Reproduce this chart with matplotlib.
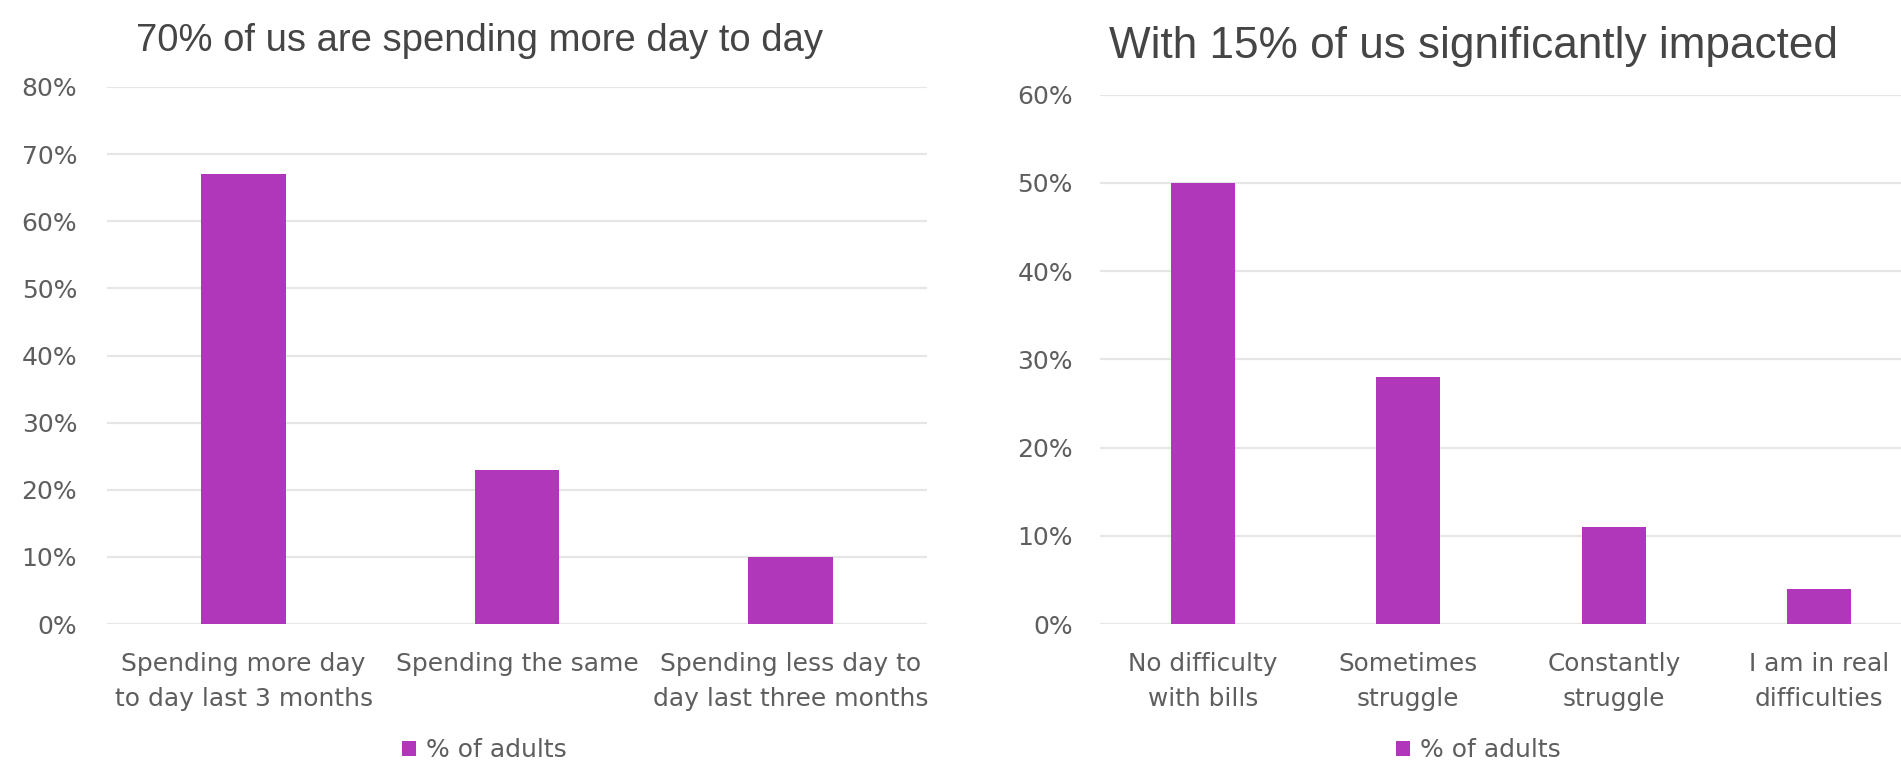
import matplotlib
matplotlib.use("Agg")
import matplotlib.pyplot as plt
from matplotlib.ticker import FuncFormatter, MultipleLocator

# ---- data ----
left_title = "70% of us are spending more day to day"
left_categories = ["Spending more day\nto day last 3 months", "Spending the same",
                   "Spending less day to\nday last three months"]
left_values = [67, 23, 10]

right_title = "With 15% of us significantly impacted"
right_categories = ["No difficulty\nwith bills", "Sometimes\nstruggle",
                    "Constantly\nstruggle", "I am in real\ndifficulties"]
right_values = [50, 28, 11, 4]

series_name = "% of adults"

BAR = "#B037B9"
GRID = "#E6E6E6"
TXT = "#5E5E5E"
TITLE = "#454545"

W, H = 1901, 760
fig = plt.figure(figsize=(W / 100, H / 100), dpi=100)
fig.patch.set_facecolor("white")


def px_axes(x0, x1, y_top, y_bot):
    return fig.add_axes([x0 / W, (H - y_bot) / H, (x1 - x0) / W, (y_bot - y_top) / H])


def style(ax, cats, vals, ymax, tick_pad, cat_size):
    xs = list(range(len(cats)))
    bars = ax.bar(xs, vals, width=0.31, color=BAR, label=series_name, zorder=3)
    ax.set_xlim(-0.5, len(cats) - 0.5)
    ax.set_ylim(0, ymax)
    ax.yaxis.set_major_locator(MultipleLocator(10))
    ax.yaxis.set_major_formatter(FuncFormatter(lambda v, p: f"{v:.0f}%"))
    ax.grid(axis="y", color=GRID, linewidth=1.6, zorder=0)
    ax.set_axisbelow(True)
    for s in ax.spines.values():
        s.set_visible(False)
    ax.tick_params(axis="both", length=0)
    ax.tick_params(axis="y", pad=tick_pad, labelsize=18, labelcolor=TXT)
    ax.set_xticks(xs)
    ax.set_xticklabels(cats, fontsize=cat_size, color=TXT, linespacing=1.6)
    ax.tick_params(axis="x", pad=20)
    for lab in ax.get_yticklabels() + ax.get_xticklabels():
        lab.set_family("DejaVu Sans")
    return bars


def add_legend(ax, bars, cx):
    leg = ax.legend(handles=[bars], labels=[series_name], loc="center",
                    bbox_to_anchor=(cx / W, (H - 750) / H), bbox_transform=fig.transFigure,
                    frameon=False, handlelength=0.55, handleheight=0.55, handletextpad=0.4,
                    borderpad=0.1, prop={"family": "DejaVu Sans", "size": 18})
    for t in leg.get_texts():
        t.set_color(TXT)
    return leg


# left chart
axL = px_axes(107, 927, 87, 624)
barsL = style(axL, left_categories, left_values, 80, 21.5, 18)
fig.text(479 / W, (H - 51) / H, left_title, ha="center", va="baseline",
         fontsize=27.5, color=TITLE, family="Liberation Sans")
add_legend(axL, barsL, 484)

# right chart (extends past right edge of figure)
axR = px_axes(1100, 1922, 94.6, 624)
barsR = style(axR, right_categories, right_values, 60, 19.5, 17.8)
fig.text(1473 / W, (H - 58) / H, right_title, ha="center", va="baseline",
         fontsize=31.8, color=TITLE, family="Liberation Sans")
add_legend(axR, barsR, 1478)

fig.savefig("out.png", dpi=100, facecolor="white")
